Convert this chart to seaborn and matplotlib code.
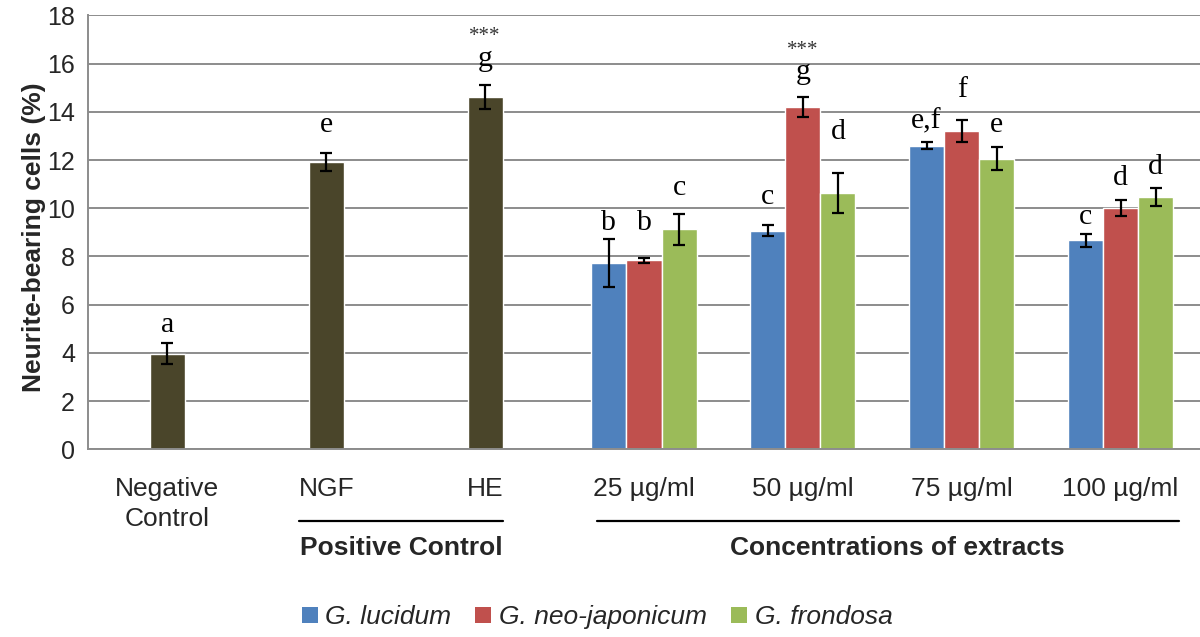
import matplotlib
matplotlib.use("Agg")
import matplotlib.pyplot as plt
import seaborn as sns
import pandas as pd
from matplotlib.patches import Patch
from matplotlib.transforms import blended_transform_factory
from matplotlib.font_manager import FontProperties

# ---------------- data ----------------
categories = ["Negative\nControl", "NGF", "HE", "25 µg/ml", "50 µg/ml", "75 µg/ml", "100 µg/ml"]
control_groups = ["Negative\nControl", "NGF", "HE"]
conc_groups = ["25 µg/ml", "50 µg/ml", "75 µg/ml", "100 µg/ml"]
species = ["G. lucidum", "G. neo-japonicum", "G. frondosa"]

control_means = [3.97, 11.92, 14.63]
control_err = [0.45, 0.38, 0.50]
control_letters = ["a", "e", "g"]
control_stars = ["", "", "***"]

lucidum_means = [7.72, 9.07, 12.60, 8.68]
lucidum_err = [1.00, 0.22, 0.13, 0.27]
lucidum_letters = ["b", "c", "e,f", "c"]

neo_means = [7.84, 14.20, 13.20, 10.02]
neo_err = [0.10, 0.42, 0.47, 0.33]
neo_letters = ["b", "g", "f", "d"]
neo_stars = ["", "***", "", ""]

frondosa_means = [9.12, 10.62, 12.06, 10.46]
frondosa_err = [0.65, 0.83, 0.47, 0.38]
frondosa_letters = ["c", "d", "e", "d"]

# ---------------- layout / style ----------------
# baselines of the significance letters (annotation placement)
control_letter_y = [4.87, 13.17, 15.92]
control_star_y = [None, None, 17.12]
lucidum_letter_y = [9.09, 10.19, 13.30, 9.36]
neo_letter_y = [9.09, 15.36, 14.63, 10.95]
neo_star_y = [None, 16.54, None, None]
frondosa_letter_y = [10.54, 12.89, 13.17, 11.44]

colors = ["#4F81BD", "#C0504D", "#9BBB59"]
dark = "#4A452A"
grid_c = "#8C8C8C"

sns.set_theme(style="white")
plt.rcParams["font.family"] = ["Liberation Sans", "DejaVu Sans"]

fig, ax = plt.subplots(figsize=(12, 6.37), dpi=100)
fig.subplots_adjust(left=0.0733, right=1.0, bottom=0.2947, top=0.9757)

ext_df = pd.DataFrame({
    "group": conc_groups * 3,
    "value": lucidum_means + neo_means + frondosa_means,
    "species": [s for s in species for _ in conc_groups],
})
ctrl_df = pd.DataFrame({"group": control_groups, "value": control_means})

sns.barplot(data=ext_df, x="group", y="value", hue="species", order=categories,
            hue_order=species, palette=colors, width=0.662, errorbar=None,
            saturation=1, ax=ax, zorder=2, legend=False)
sns.barplot(data=ctrl_df, x="group", y="value", order=categories, color=dark,
            width=0.2207, errorbar=None, saturation=1, ax=ax, zorder=2)

# error bars and letters, positioned from the drawn bars
containers = ax.containers
series_err = [lucidum_err, neo_err, frondosa_err]
series_letters = [lucidum_letters, neo_letters, frondosa_letters]
series_letter_y = [lucidum_letter_y, neo_letter_y, frondosa_letter_y]
series_star_y = [[None] * 4, neo_star_y, [None] * 4]
series_stars = [[""] * 4, neo_stars, [""] * 4]

serif = ["Liberation Serif", "DejaVu Serif"]

def annotate(container, errs, letters, letter_y, stars, star_y):
    xs = [p.get_x() + p.get_width() / 2 for p in container.patches]
    hs = [p.get_height() for p in container.patches]
    ax.errorbar(xs, hs, yerr=errs, fmt="none", ecolor="black", elinewidth=1.6,
                capsize=4.3, capthick=1.6, zorder=4)
    for x, t, ly, st, sy in zip(xs, letters, letter_y, stars, star_y):
        ax.text(x, ly, t, ha="center", va="baseline", fontsize=21.5,
                family=serif, color="black", zorder=5)
        if st:
            ax.text(x, sy, st, ha="center", va="center", fontsize=15,
                    family=serif, color="#333333", zorder=5)

for i in range(3):
    annotate(containers[i], series_err[i], series_letters[i], series_letter_y[i],
             series_stars[i], series_star_y[i])
annotate(containers[3], control_err, control_letters, control_letter_y,
         control_stars, control_star_y)

# axes styling
ax.set_ylim(0, 18)
ax.set_yticks(range(0, 19, 2))
ax.set_xlim(-0.5, 6.5)
ax.set_xticks(range(len(categories)))
ax.set_xticklabels(categories, fontsize=19, linespacing=1.3)
ax.tick_params(axis="x", length=0, pad=20)
ax.tick_params(axis="y", length=0, pad=9.4, labelsize=18)
ax.yaxis.grid(True, color=grid_c, linewidth=1.4, zorder=0)
ax.xaxis.grid(False)
ax.set_axisbelow(True)
for s in ["top", "right"]:
    ax.spines[s].set_visible(False)
ax.spines["left"].set_color(grid_c)
ax.spines["left"].set_linewidth(1.4)
ax.spines["bottom"].set_color(grid_c)
ax.spines["bottom"].set_linewidth(1.4)
ax.set_xlabel("")
ax.set_ylabel("Neurite-bearing cells (%)", fontsize=19, fontweight="bold")
ax.yaxis.set_label_coords(-0.0375, 0.489)

# group brackets under the axis
tr = blended_transform_factory(ax.transData, ax.transAxes)
ax.plot([1 - 0.17, 2 + 0.11], [-0.165, -0.165], transform=tr, color="black",
        lw=1.6, clip_on=False)
ax.plot([3 - 0.293, 6 + 0.366], [-0.165, -0.165], transform=tr, color="black",
        lw=1.6, clip_on=False)
ax.text(1.474, -0.227, "Positive Control", transform=tr, ha="center", va="center",
        fontsize=19, fontweight="bold")
ax.text(4.595, -0.227, "Concentrations of extracts", transform=tr, ha="center",
        va="center", fontsize=19, fontweight="bold")

# legend
handles = [Patch(facecolor=c, edgecolor="none") for c in colors]
fig.legend(handles, species, loc="center", bbox_to_anchor=(0.4975, 0.031),
           ncol=3, frameon=False,
           prop=FontProperties(family="Liberation Sans", style="italic", size=19),
           handlelength=0.6, handleheight=0.6, handletextpad=0.3,
           columnspacing=0.9, borderaxespad=0, borderpad=0)

fig.savefig("out.png", dpi=100)
